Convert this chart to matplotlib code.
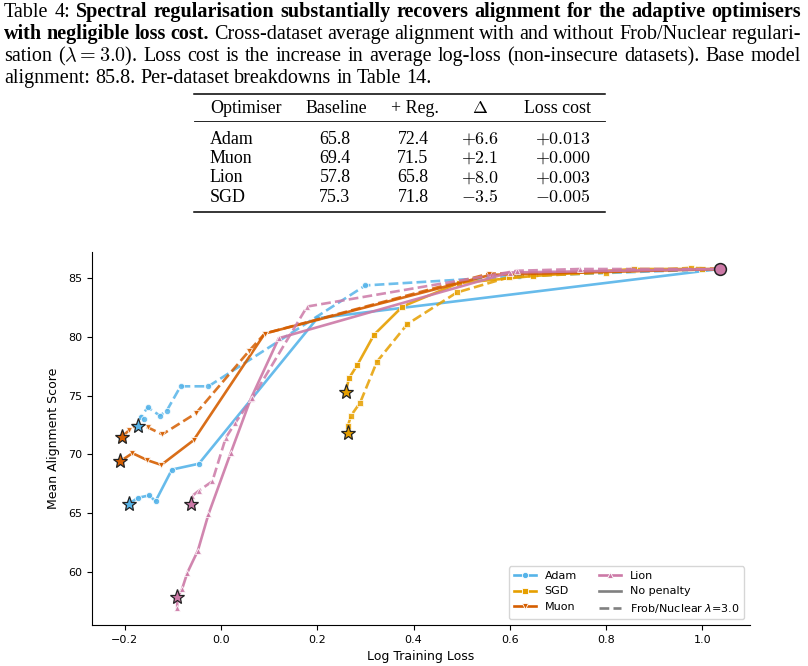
import matplotlib
matplotlib.use("Agg")
import matplotlib.pyplot as plt
from matplotlib.lines import Line2D

W, H, DPI = 808, 666, 100

# ---------------- data ----------------
optimisers = ["Adam", "SGD", "Muon", "Lion"]
colors = {"Adam": "#56B4E9", "SGD": "#E69F00", "Muon": "#D55E00", "Lion": "#CC79A7"}
markers = {"Adam": "o", "SGD": "s", "Muon": "v", "Lion": "^"}

# No penalty trajectories (log training loss, mean alignment)
adam_np_x = [1.036, 0.200, -0.046, -0.102, -0.136, -0.149, -0.172, -0.191]
adam_np_y = [85.8, 81.6, 69.2, 68.7, 66.0, 66.5, 66.3, 65.8]
sgd_np_x = [1.036, 1.000, 0.857, 0.648, 0.494, 0.377, 0.318, 0.283, 0.266, 0.259]
sgd_np_y = [85.8, 85.8, 85.8, 85.2, 84.6, 82.6, 80.2, 77.6, 76.5, 75.3]
muon_np_x = [1.036, 0.560, 0.091, -0.057, -0.124, -0.153, -0.184, -0.2095]
muon_np_y = [85.8, 85.3, 80.3, 71.2, 69.1, 69.5, 70.1, 69.4]
lion_np_x = [1.036, 0.600, 0.120, 0.0615, 0.020, -0.026, -0.048, -0.070, -0.081, -0.091, -0.091]
lion_np_y = [85.8, 85.5, 79.9, 74.7, 70.1, 64.9, 61.8, 59.9, 58.5, 57.8, 56.9]

# Frob/Nuclear lambda=3.0 trajectories
adam_reg_x = [1.036, 0.620, 0.300, -0.026, -0.084, -0.113, -0.127, -0.152, -0.167, -0.160, -0.172]
adam_reg_y = [85.8, 85.2, 84.4, 75.8, 75.8, 73.7, 73.3, 74.0, 73.2, 73.0, 72.4]
sgd_reg_x = [1.036, 0.976, 0.800, 0.598, 0.490, 0.387, 0.324, 0.289, 0.270, 0.2635, 0.2635]
sgd_reg_y = [85.8, 85.9, 85.5, 85.1, 83.8, 81.1, 77.9, 74.4, 73.3, 72.4, 71.8]
muon_reg_x = [1.036, 0.556, 0.091, 0.058, -0.052, -0.122, -0.152, -0.179, -0.191, -0.206]
muon_reg_y = [85.8, 85.4, 80.3, 78.8, 73.5, 71.7, 72.3, 72.4, 72.05, 71.5]
lion_reg_x = [1.036, 0.746, 0.615, 0.179, 0.065, 0.030, 0.0098, -0.018, -0.046, -0.060, -0.063]
lion_reg_y = [85.8, 85.8, 85.65, 82.6, 74.8, 72.7, 71.4, 67.7, 66.9, 66.45, 65.8]

np_x = {"Adam": adam_np_x, "SGD": sgd_np_x, "Muon": muon_np_x, "Lion": lion_np_x}
np_y = {"Adam": adam_np_y, "SGD": sgd_np_y, "Muon": muon_np_y, "Lion": lion_np_y}
reg_x = {"Adam": adam_reg_x, "SGD": sgd_reg_x, "Muon": muon_reg_x, "Lion": lion_reg_x}
reg_y = {"Adam": adam_reg_y, "SGD": sgd_reg_y, "Muon": muon_reg_y, "Lion": lion_reg_y}

# Table values
table_opts = ["Adam", "Muon", "Lion", "SGD"]
table_baseline = [65.8, 69.4, 57.8, 75.3]
table_reg = [72.4, 71.5, 65.8, 71.8]
table_delta = ["+6.6", "+2.1", "+8.0", "-3.5"]
table_loss = ["+0.013", "+0.000", "+0.003", "-0.005"]

# end-point stars: x at final loss, y from table
star_np_x = {"Adam": -0.191, "Muon": -0.2095, "Lion": -0.091, "SGD": 0.259}
star_reg_x = {"Adam": -0.172, "Muon": -0.206, "Lion": -0.063, "SGD": 0.2635}

base_x, base_y = 1.036, 85.8

xticks = [-0.2, 0.0, 0.2, 0.4, 0.6, 0.8, 1.0]
yticks = [60, 65, 70, 75, 80, 85]

# ---------------- figure ----------------
fig = plt.figure(figsize=(W / DPI, H / DPI), dpi=DPI)
renderer = fig.canvas.get_renderer()


def fx(px):
    return px / W


def fy(py):
    return 1 - py / H


SERIF = "Liberation Serif"


def measure(s, **kw):
    t = fig.text(0, 0, s, **kw)
    w = t.get_window_extent(renderer).width
    t.remove()
    return w


# --- caption ---
cap_lines = [
    [("Table 4:", "normal"), ("Spectral regularisation substantially recovers alignment for the adaptive optimisers", "bold")],
    [("with negligible loss cost.", "bold"), ("Cross-dataset average alignment with and without Frob/Nuclear regulari-", "normal")],
    [("sation ($\\lambda = 3.0$). Loss cost is the increase in average log-loss (non-insecure datasets). Base model", "normal")],
    [("alignment: 85.8. Per-dataset breakdowns in Table 14.", "normal")],
]
# fit font size from last (unjustified) line
base_fs = 12
w_last = measure(cap_lines[3][0][0], family=SERIF, size=base_fs)
cap_fs = base_fs * 428.0 / w_last
cap_left, cap_right = 4, 801
cap_baselines = [17, 39, 61, 83]

for li, segs in enumerate(cap_lines):
    words = []
    for seg, wt in segs:
        for wd in seg.split(" "):
            if wd:
                words.append((wd, wt))
    merged = []
    for wd, wt in words:
        if merged and merged[-1][0].count("$") % 2 == 1:
            merged[-1] = (merged[-1][0] + " " + wd, merged[-1][1])
        else:
            merged.append((wd, wt))
    words = merged
    kw = lambda wt: dict(family=SERIF, size=cap_fs, weight=wt, math_fontfamily="cm")
    widths = [measure(wd, **kw(wt)) for wd, wt in words]
    if li < len(cap_lines) - 1:
        gap = (cap_right - cap_left - sum(widths)) / (len(words) - 1)
    else:
        gap = measure("a b", family=SERIF, size=cap_fs) - measure("ab", family=SERIF, size=cap_fs)
    x = cap_left
    for (wd, wt), w in zip(words, widths):
        fig.text(fx(x), fy(cap_baselines[li]), wd, ha="left", va="baseline", **kw(wt))
        x += w + gap

# --- table ---
tfs = cap_fs * 0.89
tx0, tx1 = 194, 605
fig.add_artist(Line2D([fx(tx0), fx(tx1)], [fy(94), fy(94)], transform=fig.transFigure, color="black", lw=1.1))
fig.add_artist(Line2D([fx(tx0), fx(tx1)], [fy(121), fy(121)], transform=fig.transFigure, color="black", lw=0.6))
fig.add_artist(Line2D([fx(tx0), fx(tx1)], [fy(212), fy(212)], transform=fig.transFigure, color="black", lw=1.1))
hdr_b = 113
tkw = dict(family=SERIF, size=tfs, va="baseline", math_fontfamily="cm")
fig.text(fx(210), fy(hdr_b), "Optimiser", ha="left", **tkw)
fig.text(fx(336), fy(hdr_b), "Baseline", ha="center", **tkw)
fig.text(fx(415), fy(hdr_b), "+ Reg.", ha="center", **tkw)
fig.text(fx(480), fy(hdr_b), "$\\Delta$", ha="center", **tkw)
fig.text(fx(557), fy(hdr_b), "Loss cost", ha="center", **tkw)
row_b = [143.5, 163, 182.5, 201.5]
for i, name in enumerate(table_opts):
    yb = fy(row_b[i])
    fig.text(fx(210), yb, name, ha="left", **tkw)
    fig.text(fx(335), yb, f"{table_baseline[i]:.1f}", ha="center", **tkw)
    fig.text(fx(413), yb, f"{table_reg[i]:.1f}", ha="center", **tkw)
    fig.text(fx(480), yb, "$" + table_delta[i] + "$", ha="center", **tkw)
    fig.text(fx(591), yb, "$" + table_loss[i] + "$", ha="right", **tkw)

# --- chart ---
ax_l, ax_r, ax_t, ax_b = 92, 750, 252, 625
ax = fig.add_axes([fx(ax_l), fy(ax_b), (ax_r - ax_l) / W, (ax_b - ax_t) / H])

lw = 1.9
for opt in optimisers:
    c = colors[opt]
    ax.plot(np_x[opt], np_y[opt], color=c, lw=lw, ls="-", marker=markers[opt], ms=4.5,
            mec="white", mew=0.6, alpha=0.9, zorder=2)
    ax.plot(reg_x[opt], reg_y[opt], color=c, lw=lw, ls="--", marker=markers[opt], ms=4.5,
            mec="white", mew=0.6, alpha=0.85, zorder=2)

for i, name in enumerate(table_opts):
    c = colors[name]
    ax.plot([star_np_x[name]], [table_baseline[i]], marker="*", ms=11, mfc=c, mec="#222222", mew=0.9,
            ls="none", zorder=5)
    ax.plot([star_reg_x[name]], [table_reg[i]], marker="*", ms=11, mfc=c, mec="#222222", mew=0.9,
            ls="none", zorder=5)

ax.plot([base_x], [base_y], marker="o", ms=8.5, mfc=colors["Lion"], mec="#222222", mew=1.1, ls="none", zorder=6)

ax.set_xlim(-0.268, 1.099)
ax.set_ylim(55.45, 87.25)
ax.set_xticks(xticks)
ax.set_yticks(yticks)
ax.tick_params(labelsize=8, length=3.5, width=0.8)
for s in ["top", "right"]:
    ax.spines[s].set_visible(False)
for s in ["left", "bottom"]:
    ax.spines[s].set_linewidth(0.8)
ax.set_xlabel("Log Training Loss", fontsize=9, labelpad=4)
ax.set_ylabel("Mean Alignment Score", fontsize=9, labelpad=6)

handles = []
labels = []
for opt in ["Adam", "SGD", "Muon", "Lion"]:
    handles.append(Line2D([], [], color=colors[opt], lw=lw, marker=markers[opt], ms=4.5, mec="white", mew=0.6))
    labels.append(opt)
handles.append(Line2D([], [], color="#808080", lw=lw, ls="-"))
labels.append("No penalty")
handles.append(Line2D([], [], color="#808080", lw=lw, ls="--"))
labels.append("Frob/Nuclear $\\lambda$=3.0")
leg = ax.legend(handles, labels, ncol=2, loc="lower right", fontsize=8, framealpha=0.8,
                edgecolor="#cccccc")

fig.savefig("out.png", dpi=DPI)
